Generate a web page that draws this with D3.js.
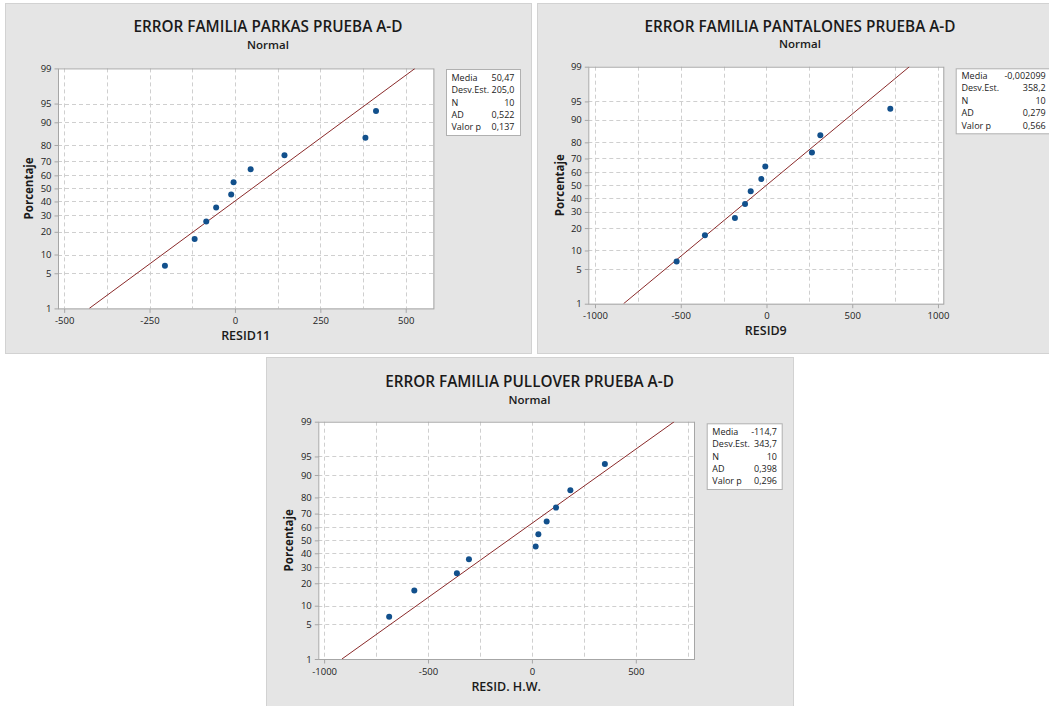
<!DOCTYPE html>
<html>
<head>
<meta charset="utf-8">
<script src="https://cdn.jsdelivr.net/npm/d3@7"></script>
<style>
  body { margin: 0; background: #fff; }
  svg { display: block; font-family: "Open Sans", sans-serif; }
</style>
</head>
<body>
<div id="chart"></div>
<script>
// plotting positions (percent) shared by the three plots, n = 10
const percents = [6.7, 16.3, 26.0, 35.6, 45.2, 54.8, 64.4, 74.0, 83.7, 93.3];
const yTicks = [1, 5, 10, 20, 30, 40, 50, 60, 70, 80, 90, 95, 99];
const statLabels = ['Media', 'Desv.Est.', 'N', 'AD', 'Valor p'];

// PARKAS
const parkasResid = [-205, -118, -84, -55, -11, -4, 46, 145, 382, 413];
const parkasStats = ['50,47', '205,0', '10', '0,522', '0,137'];
const parkasMean = 50.47, parkasSd = 205.0;
const parkasTicks = [-500, -250, 0, 250, 500];
const parkasGrid = [-500, -375, -250, -125, 0, 125, 250, 375, 500];

// PANTALONES
const pantalonesResid = [-524, -359, -184, -125, -92, -30, -7, 265, 314, 722];
const pantalonesStats = ['-0,002099', '358,2', '10', '0,279', '0,566'];
const pantalonesMean = -0.002099, pantalonesSd = 358.2;
const pantalonesTicks = [-1000, -500, 0, 500, 1000];
const pantalonesGrid = [-1000, -750, -500, -250, 0, 250, 500, 750, 1000];

// PULLOVER
const pulloverResid = [-687, -566, -361, -303, 18, 31, 71, 116, 185, 351];
const pulloverStats = ['-114,7', '343,7', '10', '0,398', '0,296'];
const pulloverMean = -114.7, pulloverSd = 343.7;
const pulloverTicks = [-1000, -500, 0, 500];
const pulloverGrid = [-1000, -750, -500, -250, 0, 250, 500, 750];

// inverse normal cdf (Acklam), used for the probability axis
function probit(p) {
  const a = [-3.969683028665376e+01, 2.209460984245205e+02, -2.759285104469687e+02, 1.383577518672690e+02, -3.066479806614716e+01, 2.506628277459239e+00];
  const b = [-5.447609879822406e+01, 1.615858368580409e+02, -1.556989798598866e+02, 6.680131188771972e+01, -1.328068155288572e+01];
  const c = [-7.784894002430293e-03, -3.223964580411365e-01, -2.400758277161838e+00, -2.549732539343734e+00, 4.374664141464968e+00, 2.938163982698783e+00];
  const d = [7.784695709041462e-03, 3.224671290700398e-01, 2.445134137142996e+00, 3.754408661907416e+00];
  const pl = 0.02425;
  if (p < pl) {
    const q = Math.sqrt(-2 * Math.log(p));
    return (((((c[0]*q+c[1])*q+c[2])*q+c[3])*q+c[4])*q+c[5]) / ((((d[0]*q+d[1])*q+d[2])*q+d[3])*q+1);
  }
  if (p > 1 - pl) {
    const q = Math.sqrt(-2 * Math.log(1 - p));
    return -(((((c[0]*q+c[1])*q+c[2])*q+c[3])*q+c[4])*q+c[5]) / ((((d[0]*q+d[1])*q+d[2])*q+d[3])*q+1);
  }
  const q = p - 0.5, r = q * q;
  return (((((a[0]*r+a[1])*r+a[2])*r+a[3])*r+a[4])*r+a[5])*q / (((((b[0]*r+b[1])*r+b[2])*r+b[3])*r+b[4])*r+1);
}

const svg = d3.select('#chart').append('svg')
  .attr('width', 1049)
  .attr('height', 706);

const panels = [
  {
    title: 'ERROR FAMILIA PARKAS PRUEBA A-D', xLabel: 'RESID11',
    resid: parkasResid, stats: parkasStats, mean: parkasMean, sd: parkasSd,
    ticks: parkasTicks, grid: parkasGrid, domain: [-518, 581],
    box: [5, 3, 526, 350], plot: [58, 68.4, 433.4, 308.4],
    titleY: 32, subY: 48.5, yLabelX: 29, xLabelY: 340,
    legend: [446, 69, 74, 66], legendLabelX: 451.5, legendValueX: 514.5, legendY: 80.8
  },
  {
    title: 'ERROR FAMILIA PANTALONES PRUEBA A-D', xLabel: 'RESID9',
    resid: pantalonesResid, stats: pantalonesStats, mean: pantalonesMean, sd: pantalonesSd,
    ticks: pantalonesTicks, grid: pantalonesGrid, domain: [-1039, 1031],
    box: [537, 3, 526, 350], plot: [588.3, 66.7, 943.3, 303.7],
    titleY: 31.5, subY: 48, yLabelX: 560, xLabelY: 334.5,
    legend: [955.7, 68.3, 100, 65], legendLabelX: 961.5, legendValueX: 1045.7, legendY: 79
  },
  {
    title: 'ERROR FAMILIA PULLOVER PRUEBA A-D', xLabel: 'RESID. H.W.',
    resid: pulloverResid, stats: pulloverStats, mean: pulloverMean, sd: pulloverSd,
    ticks: pulloverTicks, grid: pulloverGrid, domain: [-1028, 780],
    box: [266, 357, 527, 360], plot: [318.3, 421.7, 694, 659],
    titleY: 386.5, subY: 404, yLabelX: 289, xLabelY: 690.5,
    legend: [706.7, 423.3, 75, 65.7], legendLabelX: 712.3, legendValueX: 777, legendY: 434.8
  }
];

panels.forEach(function (p, i) {
  const g = svg.append('g');
  const [left, top, right, bottom] = p.plot;

  // panel background
  g.append('rect')
    .attr('x', p.box[0] + 0.5).attr('y', p.box[1] + 0.5)
    .attr('width', p.box[2]).attr('height', p.box[3])
    .attr('fill', '#e5e5e5').attr('stroke', '#d2d2d2');

  g.append('text')
    .attr('x', p.box[0] + p.box[2] / 2).attr('y', p.titleY)
    .attr('text-anchor', 'middle')
    .attr('font-size', 15.3).attr('font-weight', 600).attr('fill', '#1a1a1a')
    .text(p.title);
  g.append('text')
    .attr('x', p.box[0] + p.box[2] / 2).attr('y', p.subY)
    .attr('text-anchor', 'middle')
    .attr('font-size', 11.5).attr('font-weight', 600).attr('fill', '#1a1a1a')
    .text('Normal');

  const x = d3.scaleLinear().domain(p.domain).range([left, right]);
  const z = d3.scaleLinear().domain([probit(0.01), probit(0.99)]).range([bottom, top]);
  const y = v => z(probit(v / 100));

  g.append('rect')
    .attr('x', left).attr('y', top)
    .attr('width', right - left).attr('height', bottom - top)
    .attr('fill', '#fff');

  // grid
  g.append('g').selectAll('line')
    .data(p.grid)
    .join('line')
    .attr('x1', d => Math.round(x(d)) + 0.5).attr('x2', d => Math.round(x(d)) + 0.5)
    .attr('y1', top).attr('y2', bottom)
    .attr('stroke', '#cfcfcf').attr('stroke-dasharray', '4,3');
  g.append('g').selectAll('line')
    .data(yTicks.slice(1, -1))
    .join('line')
    .attr('x1', left).attr('x2', right)
    .attr('y1', d => Math.round(y(d)) + 0.5).attr('y2', d => Math.round(y(d)) + 0.5)
    .attr('stroke', '#cfcfcf').attr('stroke-dasharray', '4,3');

  g.append('rect')
    .attr('x', left + 0.5).attr('y', top + 0.5)
    .attr('width', right - left).attr('height', bottom - top)
    .attr('fill', 'none').attr('stroke', '#a6a6a6');

  // axes
  const xAxis = g.append('g')
    .attr('transform', `translate(0,${bottom + 0.5})`)
    .call(d3.axisBottom(x).tickValues(p.ticks).tickSize(4).tickSizeOuter(0).tickFormat(d => String(d)));
  const yAxis = g.append('g')
    .attr('transform', `translate(${left + 0.5},0)`)
    .call(d3.axisLeft(z)
      .tickValues(yTicks.map(t => probit(t / 100)))
      .tickFormat((d, k) => yTicks[k])
      .tickSize(4).tickSizeOuter(0));
  [xAxis, yAxis].forEach(function (ax) {
    ax.select('.domain').remove();
    ax.selectAll('line').attr('stroke', '#a6a6a6');
    ax.selectAll('text').attr('font-size', 9.5).attr('fill', '#222')
      .attr('font-family', '"Open Sans", sans-serif');
  });
  xAxis.selectAll('text').attr('dy', '0.85em');

  g.append('text')
    .attr('transform', `translate(${p.yLabelX},${(top + bottom) / 2}) rotate(-90)`)
    .attr('text-anchor', 'middle').attr('dy', '0.35em')
    .attr('font-size', 11.5).attr('font-weight', 700).attr('fill', '#1a1a1a')
    .text('Porcentaje');
  g.append('text')
    .attr('x', (left + right) / 2).attr('y', p.xLabelY)
    .attr('text-anchor', 'middle')
    .attr('font-size', 12.5).attr('font-weight', 600).attr('fill', '#1a1a1a')
    .text(p.xLabel);

  // fitted line through the 1% and 99% points
  const clipId = 'clip' + i;
  g.append('clipPath').attr('id', clipId)
    .append('rect').attr('x', left).attr('y', top)
    .attr('width', right - left).attr('height', bottom - top);
  g.append('line')
    .attr('clip-path', `url(#${clipId})`)
    .attr('x1', x(p.mean + p.sd * probit(0.01))).attr('y1', y(1))
    .attr('x2', x(p.mean + p.sd * probit(0.99))).attr('y2', y(99))
    .attr('stroke', '#8a2a2a').attr('stroke-width', 1);

  g.append('g').selectAll('circle')
    .data(p.resid)
    .join('circle')
    .attr('cx', d => x(d))
    .attr('cy', (d, k) => y(percents[k]))
    .attr('r', 3)
    .attr('fill', '#12508c');

  // stats box
  const [lx, ly, lw, lh] = p.legend;
  g.append('rect')
    .attr('x', lx + 0.5).attr('y', ly + 0.5)
    .attr('width', lw).attr('height', lh)
    .attr('fill', '#fff').attr('stroke', '#b0b0b0');
  statLabels.forEach(function (lab, k) {
    g.append('text')
      .attr('x', p.legendLabelX).attr('y', p.legendY + k * 12.4)
      .attr('font-size', 9).attr('fill', '#222')
      .text(lab);
    g.append('text')
      .attr('x', p.legendValueX).attr('y', p.legendY + k * 12.4)
      .attr('text-anchor', 'end')
      .attr('font-size', 9).attr('fill', '#222')
      .text(p.stats[k]);
  });
});
</script>
</body>
</html>
